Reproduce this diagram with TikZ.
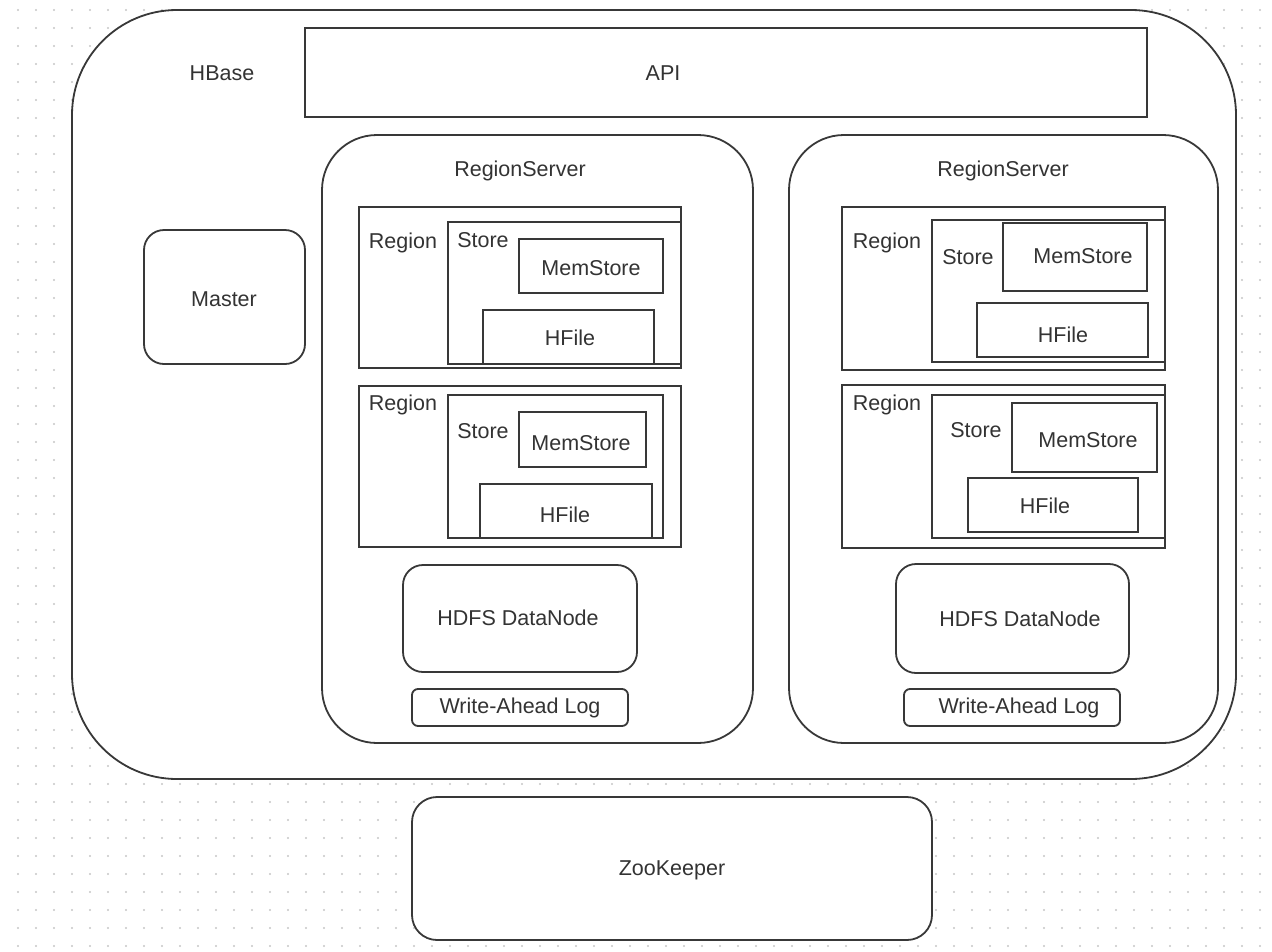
\documentclass[tikz,border=0pt]{standalone}
\usepackage{fontspec}
\setmainfont{Liberation Sans}
\begin{document}
\begin{tikzpicture}[x=1pt,y=-1pt,
  box/.style={draw=black!78, line width=1.8pt, fill=white, inner sep=0pt, rectangle},
  rbox/.style={box, rounded corners=#1},
  lbl/.style={inner sep=0pt, text=black!80, font=\fontsize{21.5}{26}\selectfont},
  dotc/.style={fill=black!22}]
\useasboundingbox (0,0) rectangle (1272,951);
\fill[white] (0,0) rectangle (1272,951);
% dotted background grid
\foreach \i in {1,...,70} {
  \foreach \j in {0,...,52} {
    \fill[dotc] ({18*\i},{10+18*\j}) circle (1.1);
  }
}
% HBase container
\node[rbox=105pt, minimum width=1164pt, minimum height=769pt] (hbase) at (654,394.5) {};
\node[lbl] (hbaselbl) at (222,73) {HBase};
\node[box, minimum width=842pt, minimum height=89pt] (api) at (726,72.5) {};
\node[lbl] (apilbl) at (663,73) {API};
\node[rbox=20pt, minimum width=161pt, minimum height=134pt] (master) at (224.5,297) {};
\node[lbl] (masterlbl) at (224,299) {Master};
% RegionServers
\node[rbox=55pt, minimum width=431pt, minimum height=608pt] (rsL) at (537.5,439) {};
\node[lbl] (rsLlbl) at (520,171) {RegionServer};
\node[rbox=55pt, minimum width=429pt, minimum height=608pt] (rsR) at (1003.5,439) {};
\node[lbl] (rsRlbl) at (1003,171) {RegionServer};
% Left RS, region 1
\node[box, minimum width=322pt, minimum height=161pt] (rL1) at (520,287.5) {};
\node[lbl] (rL1lbl) at (403,243) {Region};
\node[box, minimum width=233pt, minimum height=142pt] (sL1) at (564.5,293) {};
\node[lbl] (sL1lbl) at (483,240) {Store};
\node[box, minimum width=144pt, minimum height=54pt] (mL1) at (591,266) {};
\node[lbl] (mL1lbl) at (591,268) {MemStore};
\node[box, minimum width=171pt, minimum height=54pt] (hL1) at (568.5,337) {};
\node[lbl] (hL1lbl) at (570,338) {HFile};
% Left RS, region 2
\node[box, minimum width=322pt, minimum height=161pt] (rL2) at (520,466.5) {};
\node[lbl] (rL2lbl) at (403,405) {Region};
\node[box, minimum width=215pt, minimum height=143pt] (sL2) at (555.5,466.5) {};
\node[lbl] (sL2lbl) at (483,431) {Store};
\node[box, minimum width=127pt, minimum height=55pt] (mL2) at (582.5,439.5) {};
\node[lbl] (mL2lbl) at (581,443) {MemStore};
\node[box, minimum width=172pt, minimum height=54pt] (hL2) at (566,511) {};
\node[lbl] (hL2lbl) at (565,515) {HFile};
% Left RS, bottom
\node[rbox=20pt, minimum width=234pt, minimum height=107pt] (dnL) at (520,618.5) {};
\node[lbl] (dnLlbl) at (518,618) {HDFS DataNode};
\node[rbox=6pt, minimum width=216pt, minimum height=37pt] (walL) at (520,707.5) {};
\node[lbl] (walLlbl) at (520,708) {Write-Ahead Log};
% Right RS, region 1
\node[box, minimum width=323pt, minimum height=163pt] (rR1) at (1003.5,288.5) {};
\node[lbl] (rR1lbl) at (887,243) {Region};
\node[box, minimum width=233pt, minimum height=142pt] (sR1) at (1048.5,291) {};
\node[lbl] (sR1lbl) at (968,257) {Store};
\node[box, minimum width=144pt, minimum height=68pt] (mR1) at (1075,257) {};
\node[lbl] (mR1lbl) at (1083,256) {MemStore};
\node[box, minimum width=171pt, minimum height=54pt] (hR1) at (1062.5,330) {};
\node[lbl] (hR1lbl) at (1063,335) {HFile};
% Right RS, region 2
\node[box, minimum width=323pt, minimum height=163pt] (rR2) at (1003.5,466.5) {};
\node[lbl] (rR2lbl) at (887,405) {Region};
\node[box, minimum width=233pt, minimum height=143pt] (sR2) at (1048.5,466.5) {};
\node[lbl] (sR2lbl) at (976,430) {Store};
\node[box, minimum width=145pt, minimum height=69pt] (mR2) at (1084.5,437.5) {};
\node[lbl] (mR2lbl) at (1088,440) {MemStore};
\node[box, minimum width=170pt, minimum height=54pt] (hR2) at (1053,505) {};
\node[lbl] (hR2lbl) at (1045,506) {HFile};
% Right RS, bottom
\node[rbox=20pt, minimum width=233pt, minimum height=109pt] (dnR) at (1012.5,618.5) {};
\node[lbl] (dnRlbl) at (1020,619) {HDFS DataNode};
\node[rbox=6pt, minimum width=216pt, minimum height=37pt] (walR) at (1012,707.5) {};
\node[lbl] (walRlbl) at (1019,708) {Write-Ahead Log};
% ZooKeeper
\node[rbox=25pt, minimum width=520pt, minimum height=143pt] (zk) at (672,868.5) {};
\node[lbl] (zklbl) at (672,870) {ZooKeeper};
\end{tikzpicture}
\end{document}
